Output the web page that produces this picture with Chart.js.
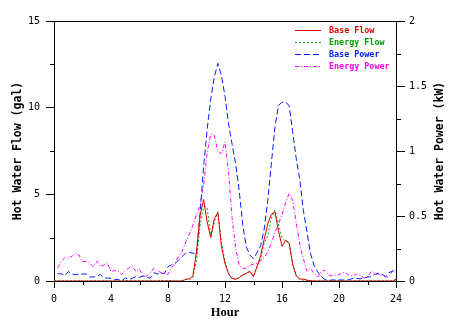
<!DOCTYPE html>
<html>
<head>
<meta charset="utf-8">
<script src="https://cdn.jsdelivr.net/npm/chart.js@4.4.0/dist/chart.umd.min.js"></script>
<style>
  html, body { margin: 0; padding: 0; background: #fff; }
</style>
</head>
<body>
<canvas id="grafico" width="457" height="333"></canvas>
<script>
// Hora del día, cada 15 minutos (0 a 24)
const hours = Array.from({ length: 97 }, (_, i) => i / 4);

// Flujo de agua caliente (gal), eje izquierdo
const baseFlow = [
  0, 0, 0, 0, 0, 0, 0, 0,
  0, 0, 0, 0, 0, 0, 0, 0,
  0, 0, 0, 0, 0, 0, 0, 0,
  0, 0, 0, 0, 0, 0, 0, 0,
  0, 0, 0, 0, 0, 0.1, 0.12, 0.3,
  1.7, 3.8, 4.7, 3.4, 2.5, 3.6, 3.95, 2.0,
  1.0, 0.4, 0.15, 0.1, 0.2, 0.35, 0.45, 0.55,
  0.25, 0.85, 1.45, 2.4, 3.3, 3.85, 4.0, 2.9,
  2.0, 2.35, 2.2, 0.95, 0.3, 0.12, 0.1, 0.05,
  0.02, 0, 0, 0, 0, 0, 0, 0,
  0, 0, 0, 0, 0, 0, 0, 0,
  0, 0, 0, 0, 0, 0, 0, 0,
  0.1,
];

const energyFlow = [
  0, 0, 0, 0, 0, 0, 0, 0,
  0, 0, 0, 0, 0, 0, 0, 0,
  0, 0, 0, 0, 0.05, 0, 0, 0,
  0, 0, 0, 0, 0, 0, 0.05, 0,
  0.05, 0, 0, 0, 0.03, 0.1, 0.1, 0.2,
  1.2, 3.2, 4.3, 4.2, 2.6, 3.4, 4.0, 2.2,
  1.1, 0.45, 0.15, 0.1, 0.2, 0.35, 0.45, 0.55,
  0.3, 0.8, 1.3, 2.2, 2.6, 3.6, 4.1, 3.3,
  2.5, 2.3, 2.2, 1.0, 0.3, 0.1, 0.05, 0.03,
  0, 0, 0, 0, 0, 0, 0, 0,
  0, 0, 0, 0, 0, 0, 0, 0,
  0, 0, 0, 0, 0, 0, 0, 0,
  0,
];

// Potencia (kW), eje derecho
const basePower = [
  null, 0.056, 0.056, 0.04, 0.072, 0.055, 0.048, 0.054,
  0.054, 0.054, 0.031, 0.031, 0.035, 0.05, 0.023, 0.023,
  0.02, 0.01, 0.013, 0, 0.023, 0.013, 0.02, 0.033,
  0.028, 0.038, 0.03, 0.021, 0.064, 0.054, 0.056, 0.059,
  0.11, 0.125, 0.136, 0.16, 0.19, 0.215, 0.22, 0.215,
  0.2, 0.52, 0.88, 1.17, 1.4, 1.57, 1.675, 1.58,
  1.42, 1.21, 1.05, 0.9, 0.69, 0.43, 0.26, 0.2,
  0.17, 0.22, 0.27, 0.4, 0.62, 0.9, 1.18, 1.35,
  1.375, 1.375, 1.35, 1.15, 0.94, 0.78, 0.54, 0.38,
  0.21, 0.12, 0.07, 0.035, 0.012, 0.003, 0.008, 0.008,
  0.008, 0.008, 0.008, 0.012, 0.021, 0.02, 0.016, 0.024,
  0.03, 0.033, 0.05, 0.06, 0.055, 0.033, 0.065, 0.075,
  0.085,
];

const energyPower = [
  null, 0.1, 0.15, 0.18, 0.176, 0.19, 0.21, 0.2,
  0.15, 0.15, 0.14, 0.11, 0.154, 0.11, 0.123, 0.14,
  0.072, 0.08, 0.077, 0.05, 0.08, 0.1, 0.115, 0.072,
  0.09, 0.038, 0.038, 0.06, 0.098, 0.08, 0.065, 0.059,
  0.05, 0.1, 0.14, 0.19, 0.23, 0.3, 0.36, 0.43,
  0.51, 0.58, 0.74, 0.99, 1.13, 1.12, 1.0, 0.98,
  1.07, 0.84, 0.48, 0.25, 0.12, 0.095, 0.1, 0.12,
  0.13, 0.137, 0.155, 0.18, 0.225, 0.29, 0.37, 0.44,
  0.51, 0.6, 0.675, 0.62, 0.45, 0.28, 0.17, 0.075,
  0.095, 0.06, 0.03, 0.07, 0.085, 0.046, 0.04, 0.045,
  0.048, 0.064, 0.06, 0.04, 0.04, 0.054, 0.045, 0.022,
  0.03, 0.072, 0.056, 0.054, 0.045, 0.033, 0.028, 0.077,
  0.077,
];

// Marcas menores de los ejes
const hourMinor = [2, 6, 10, 14, 18, 22];
const flowMinor = [2.5, 7.5, 12.5];
const powerMinor = [0.25, 0.75, 1.25, 1.75];

const MONO = "'DejaVu Sans Mono', monospace";

const toPoints = (values) => values.map((v, i) => ({ x: hours[i], y: v }));

const serie = (label, values, color, dash, axis) => ({
  label,
  data: toPoints(values),
  borderColor: color,
  backgroundColor: color,
  borderWidth: 1,
  borderDash: dash,
  pointRadius: 0,
  tension: 0,
  fill: false,
  yAxisID: axis,
});

// Marco superior, marcas menores, títulos de ejes y leyenda
const extras = {
  id: "extras",
  afterDraw(chart) {
    const { ctx, chartArea, scales } = chart;
    ctx.save();
    ctx.strokeStyle = "#000";
    ctx.lineWidth = 1;

    const top = Math.round(chartArea.top) + 0.5;
    ctx.beginPath();
    ctx.moveTo(Math.round(chartArea.left), top);
    ctx.lineTo(Math.round(chartArea.right) + 1, top);
    ctx.stroke();

    const minor = (scale, values, len) => {
      values.forEach((v) => {
        const p = Math.round(scale.getPixelForValue(v)) + 0.5;
        ctx.beginPath();
        if (scale.axis === "x") {
          ctx.moveTo(p, scale.top);
          ctx.lineTo(p, scale.top + len);
        } else if (scale.position === "left") {
          ctx.moveTo(scale.right - len, p);
          ctx.lineTo(scale.right, p);
        } else {
          ctx.moveTo(scale.left, p);
          ctx.lineTo(scale.left + len, p);
        }
        ctx.stroke();
      });
    };
    minor(scales.x, hourMinor, 4);
    minor(scales.y, flowMinor, 4);
    minor(scales.y1, powerMinor, 5);

    // Títulos
    const midY = (chartArea.top + chartArea.bottom) / 2;
    ctx.fillStyle = "#000";
    ctx.textAlign = "center";
    ctx.textBaseline = "middle";
    ctx.font = `bold 11.5px ${MONO}`;
    [[18.5, "Hot Water Flow (gal)"], [440, "Hot Water Power (kW)"]].forEach(([x, txt]) => {
      ctx.save();
      ctx.translate(x, midY);
      ctx.rotate(-Math.PI / 2);
      ctx.fillText(txt, 0, 0);
      ctx.restore();
    });
    ctx.font = "bold 12.5px 'Liberation Serif', serif";
    ctx.fillText("Hour", (chartArea.left + chartArea.right) / 2, 313);

    // Leyenda
    ctx.font = `bold 8.4px ${MONO}`;
    ctx.textAlign = "left";
    chart.data.datasets.forEach((ds, i) => {
      const y = 30.5 + i * 12;
      ctx.strokeStyle = ds.borderColor;
      ctx.setLineDash(ds.borderDash || []);
      ctx.beginPath();
      ctx.moveTo(295, y);
      ctx.lineTo(321, y);
      ctx.stroke();
      ctx.setLineDash([]);
      ctx.fillStyle = ds.borderColor;
      ctx.fillText(ds.label, 329, y);
    });
    ctx.restore();
  },
};

const axisGrid = (len) => ({
  drawOnChartArea: false,
  drawTicks: true,
  tickLength: len,
  color: "#000",
  tickColor: "#000",
});

const tickFont = { family: MONO, size: 10 };
const plainNumber = (v) => String(Number(v.toFixed(2)));

const ctx = document.getElementById("grafico").getContext("2d");
new Chart(ctx, {
  type: "line",
  data: {
    datasets: [
      serie("Base Flow", baseFlow, "#e00000", [], "y"),
      serie("Energy Flow", energyFlow, "#00a000", [2, 2], "y"),
      serie("Base Power", basePower, "#0020ff", [6, 3], "y1"),
      serie("Energy Power", energyPower, "#ff00ff", [4, 2, 1, 2], "y1"),
    ],
  },
  options: {
    responsive: false,
    animation: false,
    devicePixelRatio: 1,
    layout: { padding: { top: 21, left: 0, right: 0, bottom: 0 } },
    plugins: {
      legend: { display: false },
      tooltip: { enabled: false },
    },
    scales: {
      x: {
        type: "linear",
        min: 0,
        max: 24,
        grid: axisGrid(7),
        border: { display: true, color: "#000", width: 1 },
        ticks: { stepSize: 4, color: "#000", font: tickFont, padding: 5, maxRotation: 0, callback: plainNumber },
        afterFit: (s) => { s.height = 52; },
      },
      y: {
        position: "left",
        min: 0,
        max: 15,
        grid: axisGrid(8),
        border: { display: true, color: "#000", width: 1 },
        ticks: { stepSize: 5, color: "#000", font: tickFont, padding: 6, callback: plainNumber },
        afterFit: (s) => { s.width = 54; },
      },
      y1: {
        position: "right",
        min: 0,
        max: 2,
        grid: axisGrid(9),
        border: { display: true, color: "#000", width: 1 },
        ticks: { stepSize: 0.5, color: "#000", font: tickFont, padding: 4, callback: plainNumber },
        afterFit: (s) => { s.width = 61; },
      },
    },
  },
  plugins: [extras],
});
</script>
</body>
</html>
